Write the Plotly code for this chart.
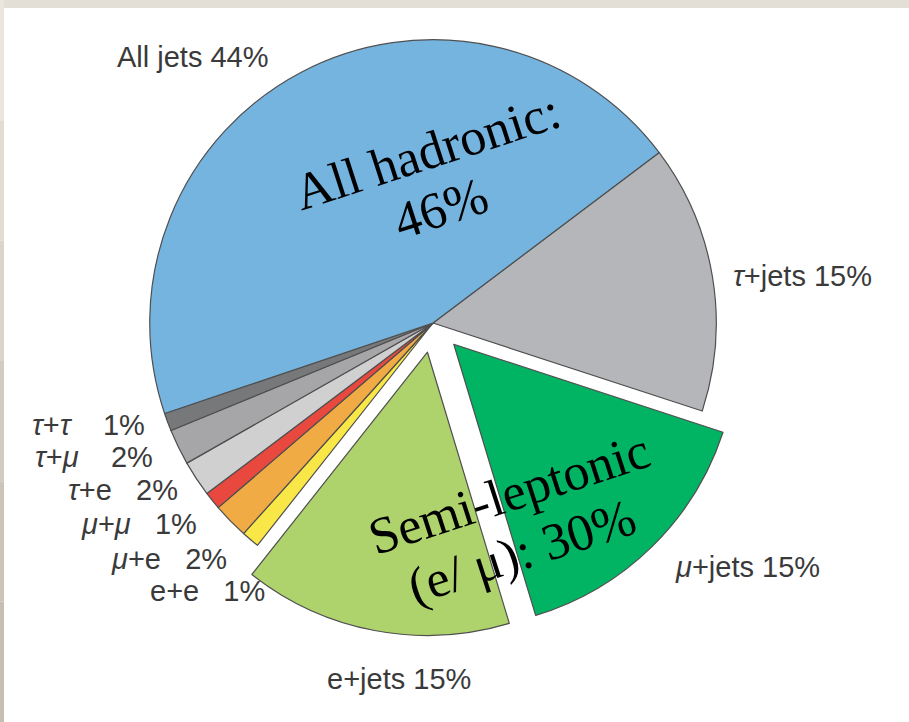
import plotly.graph_objects as go

# Top-pair decay channels, listed clockwise from the τ+jets slice
channels = ["τ+jets", "μ+jets", "e+jets", "e+e", "μ+e", "μ+μ", "τ+e", "τ+μ", "τ+τ", "All jets"]
shares = [15, 15, 15, 1, 2, 1, 2, 2, 1, 44]

slice_colors = ["#B5B6B9", "#00B464", "#AFD36C", "#F9E647", "#F1AB44", "#E9483F",
                "#D0D0D1", "#A6A6A8", "#77787A", "#75B4DF"]
slice_pull = [0, 0.105, 0.105, 0, 0, 0, 0, 0, 0, 0]

# overlaid summary text, one entry per line
summary_lines = ["All hadronic:", "46%", "Semi-leptonic", "(e/ μ): 30%"]

W, H = 909, 722


def label_text(name, value, gap=" "):
    name = name.replace("τ", "<i>τ</i>").replace("μ", "<i>μ</i>")
    return f"{name}{gap}{value}%"


# label placement in pixels: (x, y, anchor, gap)
sp3 = "\u00a0\u00a0\u00a0"
label_place = {
    "All jets": (115, 57, "left", " "),
    "τ+jets": (731, 276, "left", " "),
    "μ+jets": (673, 567, "left", " "),
    "e+jets": (325, 679, "left", " "),
    "τ+τ": (147, 425, "right", sp3 + "\u00a0"),
    "τ+μ": (155, 457, "right", sp3 + "\u00a0"),
    "τ+e": (180, 490, "right", sp3),
    "μ+μ": (199, 524, "right", sp3),
    "μ+e": (229, 559, "right", sp3),
    "e+e": (267, 591, "right", sp3),
}

# centres (pixels) of the overlaid summary lines
summary_place = [(427, 151), (440, 208), (509, 493), (522, 552)]

# pie domain (pixels): centre and half-size of the square box
cx, cy, half = 433, 323, 313

fig = go.Figure(
    go.Pie(
        labels=channels,
        values=shares,
        sort=False,
        direction="clockwise",
        rotation=53,
        pull=slice_pull,
        textinfo="none",
        hoverinfo="label+value",
        marker=dict(colors=slice_colors, line=dict(color="#4F4F4F", width=1.2)),
        domain=dict(
            x=[(cx - half) / W, (cx + half) / W],
            y=[1 - (cy + half) / H, 1 - (cy - half) / H],
        ),
        showlegend=False,
    )
)

annotations = []
for name, value in zip(channels, shares):
    px, py, anchor, gap = label_place[name]
    annotations.append(dict(
        x=px / W, y=1 - py / H, xref="paper", yref="paper",
        xanchor=anchor, yanchor="middle",
        text=label_text(name, value, gap), showarrow=False,
        font=dict(family="Liberation Sans, Arial, sans-serif", size=29, color="#3A3A3A"),
    ))

serif = dict(family="Liberation Serif, Times New Roman, serif", size=52, color="#000000")
for line, (px, py) in zip(summary_lines, summary_place):
    annotations.append(dict(
        x=px / W, y=1 - py / H, xref="paper", yref="paper",
        xanchor="center", yanchor="middle", textangle=-18,
        text=line, showarrow=False, font=serif,
    ))

# beige frame strips along the top and left edges
shapes = [dict(type="rect", xref="paper", yref="paper", x0=0, x1=1,
               y0=1 - 8 / H, y1=1, fillcolor="#E3DFD6", line=dict(width=0), layer="below")]
strip_cols = ["#EAE6DD", "#E2DDD3", "#DAD4C9", "#D2CBBF", "#CBC4B7", "#C6BEB0"]
n = len(strip_cols)
for i, c in enumerate(strip_cols):
    shapes.append(dict(type="rect", xref="paper", yref="paper", x0=0, x1=4 / W,
                       y0=1 - (i + 1) / n, y1=1 - i / n, fillcolor=c,
                       line=dict(width=0), layer="below"))

fig.update_layout(
    width=W, height=H,
    margin=dict(l=0, r=0, t=0, b=0),
    paper_bgcolor="#FFFFFF",
    plot_bgcolor="#FFFFFF",
    annotations=annotations,
    shapes=shapes,
)

fig.write_html("out.html")
